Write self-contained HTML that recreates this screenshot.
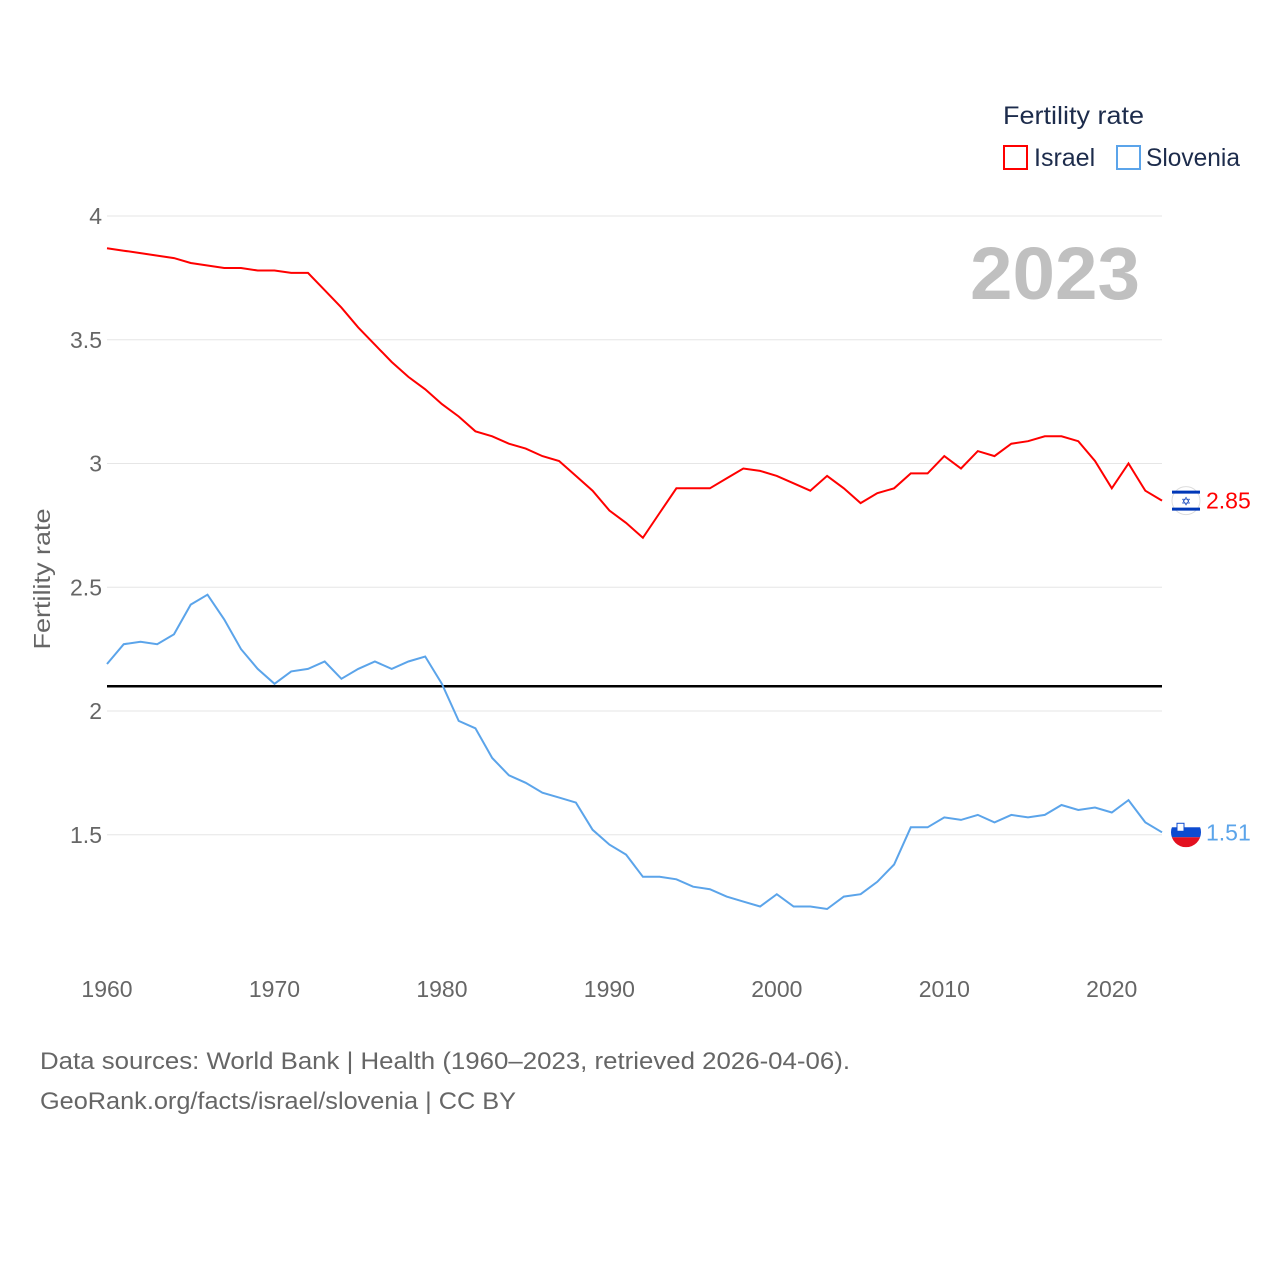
<!DOCTYPE html>
<html><head><meta charset="utf-8"><style>
html,body{margin:0;padding:0;background:#fff;}
body{width:1280px;height:1280px;overflow:hidden;font-family:"Liberation Sans",sans-serif;}
svg text{font-family:"Liberation Sans",sans-serif;}
</style></head><body>
<svg id="chart" width="1280" height="1280" xmlns="http://www.w3.org/2000/svg">
<g id="grid"></g>
<g id="yticks"></g>
<g id="xticks"></g>
<text x="50" y="579" transform="rotate(-90 50 579)" text-anchor="middle" font-size="23" fill="#666" textLength="141" lengthAdjust="spacingAndGlyphs">Fertility rate</text>
<text x="1140" y="299" text-anchor="end" font-size="74" font-weight="bold" fill="#c0c0c0" textLength="170" lengthAdjust="spacingAndGlyphs">2023</text>
<g>
<text x="1003" y="124" font-size="25" fill="#1d2c4c" textLength="141" lengthAdjust="spacingAndGlyphs">Fertility rate</text>
<g><rect x="1004" y="146" width="23" height="23" fill="none" stroke="#ff0000" stroke-width="2"/><text x="1034" y="166" font-size="25" fill="#1d2c4c">Israel</text></g>
<g><rect x="1117" y="146" width="23" height="23" fill="none" stroke="#5ba4ea" stroke-width="2"/><text x="1146" y="166" font-size="25" fill="#1d2c4c" textLength="94" lengthAdjust="spacingAndGlyphs">Slovenia</text></g>
</g>
<line id="ref" x1="107" x2="1162" stroke="#000" stroke-width="2.5"/>
<g id="series"></g>
<text x="40" y="1069" font-size="24" fill="#666" textLength="810" lengthAdjust="spacingAndGlyphs">Data sources: World Bank | Health (1960–2023, retrieved 2026-04-06).</text>
<text x="40" y="1109" font-size="24" fill="#666" textLength="476" lengthAdjust="spacingAndGlyphs">GeoRank.org/facts/israel/slovenia | CC BY</text>
</svg>
<script>
const years = Array.from({length:64},(_,i)=>1960+i);
const israel = [3.87,3.86,3.85,3.84,3.83,3.81,3.80,3.79,3.79,3.78,3.78,3.77,3.77,3.70,3.63,3.55,3.48,3.41,3.35,3.30,3.24,3.19,3.13,3.11,3.08,3.06,3.03,3.01,2.95,2.89,2.81,2.76,2.70,2.80,2.90,2.90,2.90,2.94,2.98,2.97,2.95,2.92,2.89,2.95,2.90,2.84,2.88,2.90,2.96,2.96,3.03,2.98,3.05,3.03,3.08,3.09,3.11,3.11,3.09,3.01,2.90,3.00,2.89,2.85];
const slovenia = [2.19,2.27,2.28,2.27,2.31,2.43,2.47,2.37,2.25,2.17,2.11,2.16,2.17,2.20,2.13,2.17,2.20,2.17,2.20,2.22,2.11,1.96,1.93,1.81,1.74,1.71,1.67,1.65,1.63,1.52,1.46,1.42,1.33,1.33,1.32,1.29,1.28,1.25,1.23,1.21,1.26,1.21,1.21,1.20,1.25,1.26,1.31,1.38,1.53,1.53,1.57,1.56,1.58,1.55,1.58,1.57,1.58,1.62,1.60,1.61,1.59,1.64,1.55,1.51];
const yTicks = [1.5,2,2.5,3,3.5,4];
const yTickLabels = ["1.5","2","2.5","3","3.5","4"];
const xTicks = [1960,1970,1980,1990,2000,2010,2020];
const refValue = 2.1;
const NS="http://www.w3.org/2000/svg";
const x = yr => 107 + (yr-1960)*(1162-107)/63;
const y = v => 216 + (4-v)*247.5;
function mk(tag,attrs,parent){const e=document.createElementNS(NS,tag);for(const k in attrs)e.setAttribute(k,attrs[k]);parent.appendChild(e);return e;}
const grid=document.getElementById('grid'),yt=document.getElementById('yticks'),xt=document.getElementById('xticks'),ser=document.getElementById('series');
yTicks.forEach((v,i)=>{
  const l=mk('line',{x1:107,x2:1162,y1:y(v),y2:y(v),stroke:'#e6e6e6','stroke-width':1},grid);
  
  
  const t=mk('text',{x:102,y:y(v)+8,'text-anchor':'end','font-size':23,fill:'#666'},yt);
  t.textContent=yTickLabels[i];
  
  
});
xTicks.forEach(v=>{
  const t=mk('text',{x:x(v),y:997,'text-anchor':'middle','font-size':23,fill:'#666'},xt);
  t.textContent=v;
  
  
});
const r=document.getElementById('ref');r.setAttribute('y1',y(refValue));r.setAttribute('y2',y(refValue));
function line(vals,color,name){
  const p=mk('path',{d:vals.map((v,i)=>(i?'L':'M')+x(years[i]).toFixed(1)+','+y(v).toFixed(1)).join(''),fill:'none',stroke:color,'stroke-width':2},ser);
  
  
}
line(israel,'#ff0000','israel-line');
line(slovenia,'#5ba4ea','slovenia-line');
const li=israel[israel.length-1], ls=slovenia[slovenia.length-1];
const gi=mk('g',{},ser);


const cy1=y(li);
mk('circle',{cx:1186,cy:cy1,r:14,fill:'#fff',stroke:'#ddd'},gi);
mk('rect',{x:1172,y:cy1-10,width:28,height:3,fill:'#0038b8'},gi);
mk('rect',{x:1172,y:cy1+7,width:28,height:3,fill:'#0038b8'},gi);
mk('text',{x:1186,y:cy1+5,'text-anchor':'middle','font-size':12,fill:'#0038b8'},gi).textContent='✡';
const ti=mk('text',{x:1206,y:cy1+8,'font-size':23,fill:'#ff0000'},ser);
ti.textContent=li.toFixed(2);


const gs=mk('g',{},ser);


const cy2=y(ls);
mk('clipPath',{id:'fc'},gs);
mk('circle',{cx:1186,cy:cy2,r:15},document.getElementById('fc'));
const fg=mk('g',{'clip-path':'url(#fc)'},gs);
mk('rect',{x:1171,y:cy2-15,width:30,height:10,fill:'#fff'},fg);
mk('rect',{x:1171,y:cy2-5,width:30,height:10,fill:'#0d4bd0'},fg);
mk('rect',{x:1171,y:cy2+5,width:30,height:10,fill:'#e3101f'},fg);
mk('rect',{x:1177,y:cy2-9,width:7,height:8,fill:'#fff',stroke:'#0d4bd0'},fg);
const ts=mk('text',{x:1206,y:cy2+8,'font-size':23,fill:'#5ba4ea'},ser);
ts.textContent=ls.toFixed(2);


</script>
</body></html>
